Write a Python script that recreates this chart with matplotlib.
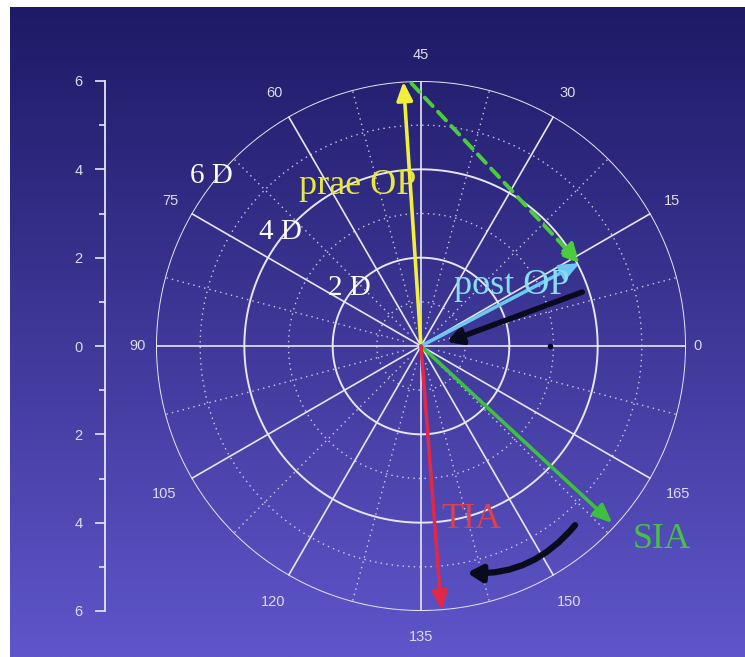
import numpy as np
import matplotlib.pyplot as plt

# astigmatism vectors, axis in degrees (0-180) and magnitude in dioptres
vec_names = ["prae OP", "post OP", "SIA", "TIA"]
vec_axis = [46.9, 13.8, 158.6, 137.2]
vec_mag = [6.0, 4.05, 5.9, 6.0]
vec_colors = ["#f2ee3c", "#6cc8f0", "#3fbf3f", "#e02848"]
text_colors = ["#e8e83c", "#86def2", "#48c048", "#e0404c"]

ring_values = [2, 4, 6]
ring_labels = ["2 D", "4 D", "6 D"]
axis_labels = [0, 15, 30, 45, 60, 75, 90, 105, 120, 135, 150, 165]
left_ticks = [-6, -4, -2, 0, 2, 4, 6]

W, H = 745, 657
fig = plt.figure(figsize=(W / 100, H / 100), dpi=100, facecolor="white")

# blue gradient backdrop
bg = fig.add_axes([10 / W, 0, 1 - 10 / W, 1 - 7 / H])
grad = np.linspace(0, 1, 256)[:, None]
c_top = np.array([0x1e, 0x1a, 0x66]) / 255
c_bot = np.array([0x5e, 0x56, 0xca]) / 255
img = c_top[None, None, :] * (1 - grad[..., None]) + c_bot[None, None, :] * grad[..., None]
img = np.repeat(img, 2, axis=1)
bg.imshow(img, aspect="auto", extent=[0, 1, 0, 1])
bg.set_axis_off()

grid_c = "#e8e6f4"
cx, cy, R = 421, 346, 265
ax = fig.add_axes([(cx - R) / W, (H - cy - R) / H, 2 * R / W, 2 * R / H],
                  projection="polar")
ax.set_facecolor("none")
ax.set_ylim(0, 6)
ax.set_axis_off()

t = np.linspace(0, 2 * np.pi, 400)
for r in [2, 4, 6]:
    ax.plot(t, np.full_like(t, r), color=grid_c, lw=1.4, zorder=1)
for r in [1, 3, 5]:
    ax.plot(t, np.full_like(t, r), color=grid_c, lw=1.0, ls=(0, (1, 3)),
            alpha=0.85, zorder=1)
for a in range(0, 360, 30):
    ax.plot([0, np.deg2rad(a)], [0, 6], color=grid_c, lw=1.2, zorder=1)
for a in range(15, 360, 30):
    ax.plot([np.deg2rad(a)] * 2, [0.4, 6], color=grid_c, lw=1.0,
            ls=(0, (1, 3)), alpha=0.85, zorder=1)

for lab in axis_labels:
    th = np.deg2rad(2 * lab)
    rr = 6.25 + 0.33 * abs(np.sin(th)) + 0.17 * (len(str(lab)) - 1) * abs(np.cos(th))
    ax.text(th, rr, str(lab), color="#dcdcea", fontsize=10.5,
            family="Liberation Sans", ha="center", va="center")

for rv, rl in zip(ring_values, ring_labels):
    ax.text(np.deg2rad(141), rv + 0.1, rl, color="white", fontsize=21,
            family="Liberation Serif", ha="center", va="center", zorder=6)

# vectors
for name, a, m, c in zip(vec_names, vec_axis, vec_mag, vec_colors):
    ax.annotate("", xy=(np.deg2rad(2 * a), m), xytext=(0, 0),
                arrowprops=dict(arrowstyle="-|>,head_length=0.7,head_width=0.3",
                                color=c, lw=2.6, shrinkA=0, shrinkB=0,
                                mutation_scale=16), zorder=5)

# SIA shifted onto the prae OP tip (dashed)
i_pre, i_post = vec_names.index("prae OP"), vec_names.index("post OP")
ax.annotate("", xy=(np.deg2rad(2 * vec_axis[i_post]), vec_mag[i_post]),
            xytext=(np.deg2rad(2 * vec_axis[i_pre]) - 0.03, vec_mag[i_pre] - 0.05),
            arrowprops=dict(arrowstyle="-|>,head_length=0.7,head_width=0.35",
                            color="#4ccc3c", lw=2.8, ls=(0, (3, 2)),
                            shrinkA=0, shrinkB=0, mutation_scale=16), zorder=5)

label_pos = {"prae OP": (111.4, 3.91), "post OP": (33.8, 2.48),
             "TIA": (286.3, 4.1), "SIA": (321.1, 6.99)}
for name, tc in zip(vec_names, text_colors):
    ang, rr = label_pos[name]
    ax.text(np.deg2rad(ang), rr, name, color=tc, fontsize=26,
            family="Liberation Serif", ha="center", va="center", zorder=6)

# hand-drawn black arrows
ax.annotate("", xy=(np.deg2rad(8.7), 0.6), xytext=(np.deg2rad(18.5), 3.85),
            arrowprops=dict(arrowstyle="-|>,head_length=0.6,head_width=0.35",
                            color="#0a0a1e", lw=4, shrinkA=0, shrinkB=0,
                            mutation_scale=14), zorder=4)
ax.annotate("", xy=(np.deg2rad(281.5), 5.24), xytext=(np.deg2rad(310.7), 5.35),
            arrowprops=dict(arrowstyle="-|>,head_length=0.6,head_width=0.35",
                            color="#0a0a1e", lw=4.5, shrinkA=0, shrinkB=0,
                            mutation_scale=14,
                            connectionstyle="arc3,rad=-0.25"), zorder=4)
ax.plot(0, 2.93, "o", color="#0a0a1e", ms=3, zorder=4)

# left scale
ax2 = fig.add_axes([105 / W, (H - cy - R) / H, 0.0001, 2 * R / H])
ax2.set_facecolor("none")
ax2.set_ylim(-6, 6)
ax2.set_xticks([])
for s in ["top", "right", "bottom"]:
    ax2.spines[s].set_visible(False)
ax2.spines["left"].set_color(grid_c)
ax2.spines["left"].set_linewidth(1.3)
ax2.set_yticks(left_ticks)
ax2.set_yticklabels([str(abs(v)) for v in left_ticks], family="Liberation Sans",
                    fontsize=10.5)
ax2.set_yticks([-5, -3, -1, 1, 3, 5], minor=True)
ax2.tick_params(axis="y", which="major", colors=grid_c, labelcolor="#dcdcea",
                length=7, width=1.2, pad=9)
ax2.tick_params(axis="y", which="minor", colors=grid_c, length=4, width=1.2)

fig.savefig("out.png", dpi=100, facecolor="white")
